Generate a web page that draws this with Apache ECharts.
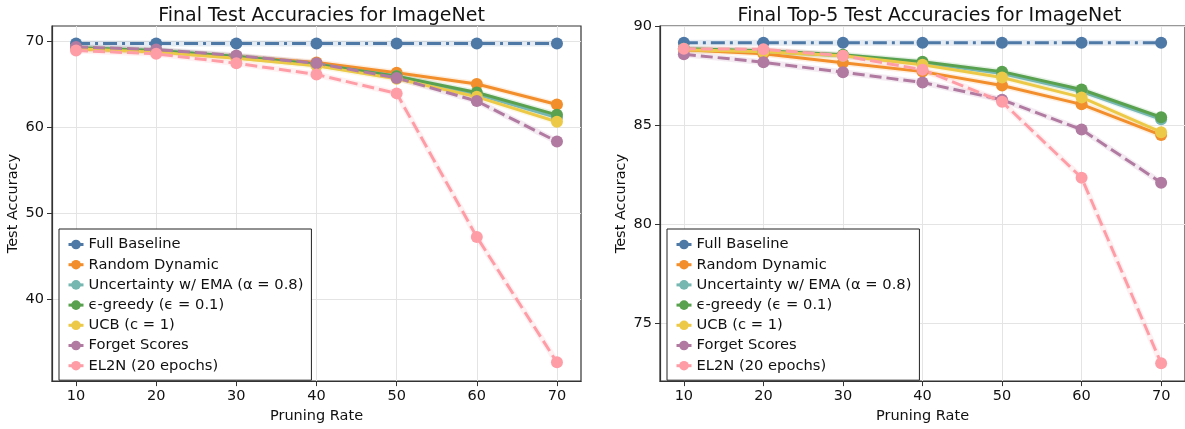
<!DOCTYPE html>
<html>
<head>
<meta charset="utf-8">
<script src="https://cdn.jsdelivr.net/npm/echarts@6/dist/echarts.min.js"></script>
<style>
html, body { margin: 0; padding: 0; background: #fff; }
#main { width: 1185px; height: 429px; }
</style>
</head>
<body>
<div id="main"></div>
<script>
const pruningRates = [10, 20, 30, 40, 50, 60, 70];
const methodNames = ['Full Baseline', 'Random Dynamic', 'Uncertainty w/ EMA (α = 0.8)', 'ϵ-greedy (ϵ = 0.1)', 'UCB (c = 1)', 'Forget Scores', 'EL2N (20 epochs)'];
const panelTitles = ['Final Test Accuracies for ImageNet', 'Final Top-5 Test Accuracies for ImageNet'];
const top1Ticks = [40, 50, 60, 70];
const top5Ticks = [75, 80, 85, 90];

// top-1 accuracies
const top1Baseline = [69.7, 69.7, 69.7, 69.7, 69.7, 69.7, 69.7];
const top1Random = [69.1, 68.8, 68.2, 67.5, 66.3, 65.0, 62.6];
const top1Uncertainty = [69.2, 68.9, 68.2, 67.3, 65.9, 63.8, 61.1];
const top1Greedy = [69.2, 68.9, 68.2, 67.3, 65.9, 64.0, 61.4];
const top1Ucb = [69.1, 68.7, 68.0, 67.1, 65.6, 63.5, 60.6];
const top1Forget = [69.3, 69.0, 68.3, 67.4, 65.7, 63.0, 58.3];
const top1El2n = [68.9, 68.5, 67.4, 66.1, 63.9, 47.2, 32.6];

// top-5 accuracies
const top5Baseline = [89.15, 89.15, 89.15, 89.15, 89.15, 89.15, 89.15];
const top5Random = [88.8, 88.6, 88.15, 87.7, 87.0, 86.05, 84.5];
const top5Uncertainty = [88.85, 88.72, 88.5, 88.15, 87.6, 86.7, 85.3];
const top5Greedy = [88.85, 88.75, 88.55, 88.2, 87.7, 86.8, 85.4];
const top5Ucb = [88.8, 88.7, 88.5, 88.05, 87.4, 86.4, 84.65];
const top5Forget = [88.58, 88.17, 87.67, 87.15, 86.28, 84.78, 82.1];
const top5El2n = [88.85, 88.83, 88.5, 87.8, 86.18, 82.35, 73.0];

const top1Data = [top1Baseline, top1Random, top1Uncertainty, top1Greedy, top1Ucb, top1Forget, top1El2n];
const top5Data = [top5Baseline, top5Random, top5Uncertainty, top5Greedy, top5Ucb, top5Forget, top5El2n];

const colors = ['#4e79a7', '#f28e2b', '#76b7b2', '#59a14f', '#edc948', '#b07aa1', '#ff9da7'];
const dashes = [[14, 5, 3, 5], 'solid', 'solid', 'solid', 'solid', [12, 5], [12, 5]];

const font = 'DejaVu Sans';
const textColor = '#111';
const spineColor = '#333';
const gridColor = '#e4e4e4';

function toPoints(values) {
    return values.map((v, i) => [pruningRates[i], v]);
}

function buildSeries(dataList, gridIdx) {
    let out = [];
    dataList.forEach((values, i) => {
        // faint band under each line
        out.push({
            type: 'line',
            xAxisIndex: gridIdx,
            yAxisIndex: gridIdx,
            data: toPoints(values),
            showSymbol: false,
            silent: true,
            z: 1,
            lineStyle: { color: colors[i], width: 6, opacity: 0.15 }
        });
        out.push({
            name: methodNames[i],
            type: 'line',
            xAxisIndex: gridIdx,
            yAxisIndex: gridIdx,
            data: toPoints(values),
            symbol: 'circle',
            symbolSize: 12,
            z: 2,
            itemStyle: { color: colors[i] },
            lineStyle: { color: colors[i], width: 3, type: dashes[i] }
        });
    });
    return out;
}

function xAxisFor(gridIdx) {
    return {
        type: 'value',
        gridIndex: gridIdx,
        min: 7,
        max: 73,
        name: 'Pruning Rate',
        nameLocation: 'middle',
        nameGap: 27,
        nameTextStyle: { fontFamily: font, fontSize: 14.5, color: textColor },
        axisLine: { show: true, lineStyle: { color: spineColor, width: 1.2 } },
        axisTick: { show: true, length: 5, customValues: pruningRates, lineStyle: { color: spineColor } },
        axisLabel: { customValues: pruningRates, margin: 8, fontFamily: font, fontSize: 14.5, color: textColor },
        splitLine: { show: true, lineStyle: { color: gridColor, width: 1 } }
    };
}

function yAxisFor(gridIdx, min, max, ticks) {
    return {
        type: 'value',
        gridIndex: gridIdx,
        min: min,
        max: max,
        name: 'Test Accuracy',
        nameLocation: 'middle',
        nameGap: 31,
        nameTextStyle: { fontFamily: font, fontSize: 14.5, color: textColor },
        axisLine: { show: true, lineStyle: { color: spineColor, width: 1.2 } },
        axisTick: { show: true, length: 5, customValues: ticks, lineStyle: { color: spineColor } },
        axisLabel: { customValues: ticks, margin: 8, fontFamily: font, fontSize: 14.5, color: textColor },
        splitLine: { show: true, lineStyle: { color: gridColor, width: 1 } }
    };
}

function legendFor(left) {
    return {
        orient: 'vertical',
        left: left,
        top: 229,
        data: methodNames,
        itemWidth: 15,
        itemHeight: 12,
        itemGap: 5.2,
        padding: [8, 8, 7, 8],
        borderColor: '#222',
        borderWidth: 1,
        borderRadius: 0,
        backgroundColor: '#fff',
        selectedMode: false,
        lineStyle: { type: 'solid', width: 3 },
        textStyle: { fontFamily: font, fontSize: 14.7, color: textColor }
    };
}

const myChart = echarts.init(document.getElementById('main'));
const option = {
    animation: false,
    backgroundColor: '#fff',
    title: [
        { text: panelTitles[0], left: 316.5, top: 2, textAlign: 'center', textStyle: { fontFamily: font, fontSize: 19, fontWeight: 'normal', color: textColor } },
        { text: panelTitles[1], left: 924.5, top: 2, textAlign: 'center', textStyle: { fontFamily: font, fontSize: 19, fontWeight: 'normal', color: textColor } }
    ],
    grid: [
        { left: 52, top: 26, width: 529, height: 358, show: true, borderColor: spineColor, borderWidth: 1.2, backgroundColor: 'transparent' },
        { left: 660, top: 26, width: 529, height: 358, show: true, borderColor: spineColor, borderWidth: 1.2, backgroundColor: 'transparent' }
    ],
    legend: [legendFor(59), legendFor(667)],
    xAxis: [xAxisFor(0), xAxisFor(1)],
    yAxis: [yAxisFor(0, 30.42, 71.74, top1Ticks), yAxisFor(1, 72.1, 90, top5Ticks)],
    series: buildSeries(top1Data, 0).concat(buildSeries(top5Data, 1))
};
myChart.setOption(option);
</script>
</body>
</html>
